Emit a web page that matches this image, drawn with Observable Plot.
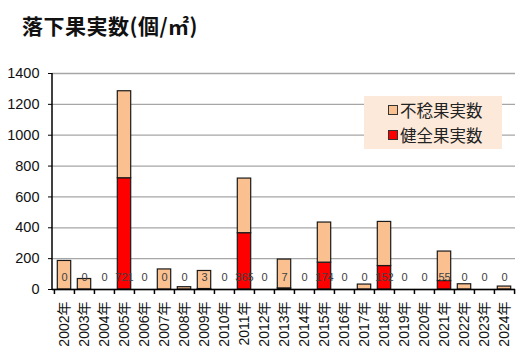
<!DOCTYPE html>
<html><head><meta charset="utf-8">
<script src="https://cdn.jsdelivr.net/npm/d3@7"></script>
<script src="https://cdn.jsdelivr.net/npm/@observablehq/plot@0.6"></script>
<style>
body{margin:0;background:#fff;font-family:"Liberation Sans","Noto Sans CJK JP",sans-serif;}
#wrap{position:relative;width:532px;height:364px;}
#title{position:absolute;left:22px;top:10px;font:bold 21px "Noto Sans CJK JP",sans-serif;color:#111;letter-spacing:0.5px;}
#legend{position:absolute;left:364px;top:96px;width:138px;height:53px;background:#fde9d9;font:16.5px "Noto Sans CJK JP",sans-serif;color:#222;}
.item{position:absolute;left:24px;display:flex;align-items:center;}
.sw{width:8px;height:8px;border:1px solid #333;margin-right:2px;}
</style></head><body>
<div id="wrap"><div id="title">落下果実数(個/㎡)</div><div id="chart"></div>
<div id="legend"><div class="item" style="top:2px"><span class="sw" style="background:#fac090"></span>不稔果実数</div><div class="item" style="top:27px"><span class="sw" style="background:#ff0000"></span>健全果実数</div></div></div>
<script>
const years = ["2002年","2003年","2004年","2005年","2006年","2007年","2008年","2009年","2010年","2011年","2012年","2013年","2014年","2015年","2016年","2017年","2018年","2019年","2020年","2021年","2022年","2023年","2024年"];
const healthy = [0,0,0,721,0,0,0,3,0,365,0,7,0,174,0,0,152,0,0,55,0,0,0];
const sterile = [185,68,0,564,0,130,15,117,0,354,0,187,0,260,0,32,286,0,0,191,34,0,19];
const seriesNames = ["健全果実数","不稔果実数"];
const colors = ["#ff0000","#fac090"];
const yTicks = [0,200,400,600,800,1000,1200,1400];

const rows = [];
years.forEach((y,i)=>{
  rows.push({year:y, series:seriesNames[0], value:healthy[i]});
  rows.push({year:y, series:seriesNames[1], value:sterile[i]});
});
const labels = years.map((y,i)=>({year:y, v:healthy[i]}));

const W=532,H=364,mL=52,mR=17;
const step=(W-mL-mR)/years.length;
const plot = Plot.plot({
  width:W,height:H,marginLeft:mL,marginRight:mR,marginTop:73,marginBottom:75,
  style:{fontFamily:'"Liberation Sans","Noto Sans CJK JP",sans-serif',background:"transparent"},
  x:{domain:years,padding:0,label:null},
  y:{domain:[0,1400],ticks:yTicks,label:null},
  color:{domain:seriesNames,range:colors},
  marks:[
    Plot.gridY(yTicks,{stroke:"#a6a6a6",strokeOpacity:1,strokeWidth:1.3}),
    Plot.barY(rows,{x:"year",y:"value",fill:"series",stroke:"#1a1a1a",strokeWidth:1.2,insetLeft:3.3,insetRight:3.3,order:seriesNames}),
    Plot.text(labels,{x:"year",y:()=>0,text:"v",dy:-12,fill:"#404040",fontSize:11}),
    Plot.ruleY([0],{stroke:"#000",strokeWidth:1.5}),
    Plot.axisY(yTicks,{tickSize:4,tickPadding:9,fontSize:14.5,fill:"#111",stroke:"#000",tickFormat:d=>String(d)}),
    Plot.axisX({tickSize:5,text:null,dx:-step/2,stroke:"#000",strokeWidth:1.5}),
    Plot.axisX([years[years.length-1]],{tickSize:5,text:null,dx:step/2,stroke:"#000",strokeWidth:1.5}),
    Plot.axisX({tickSize:0,tickPadding:12,tickRotate:-90,fontSize:14,fill:"#111"})
  ]
});
document.getElementById("chart").appendChild(plot);
const svg=d3.select(plot);
svg.append("line").attr("x1",mL).attr("x2",mL).attr("y1",73).attr("y2",H-75).attr("stroke","#000").attr("stroke-width",1.5);
</script></body></html>
